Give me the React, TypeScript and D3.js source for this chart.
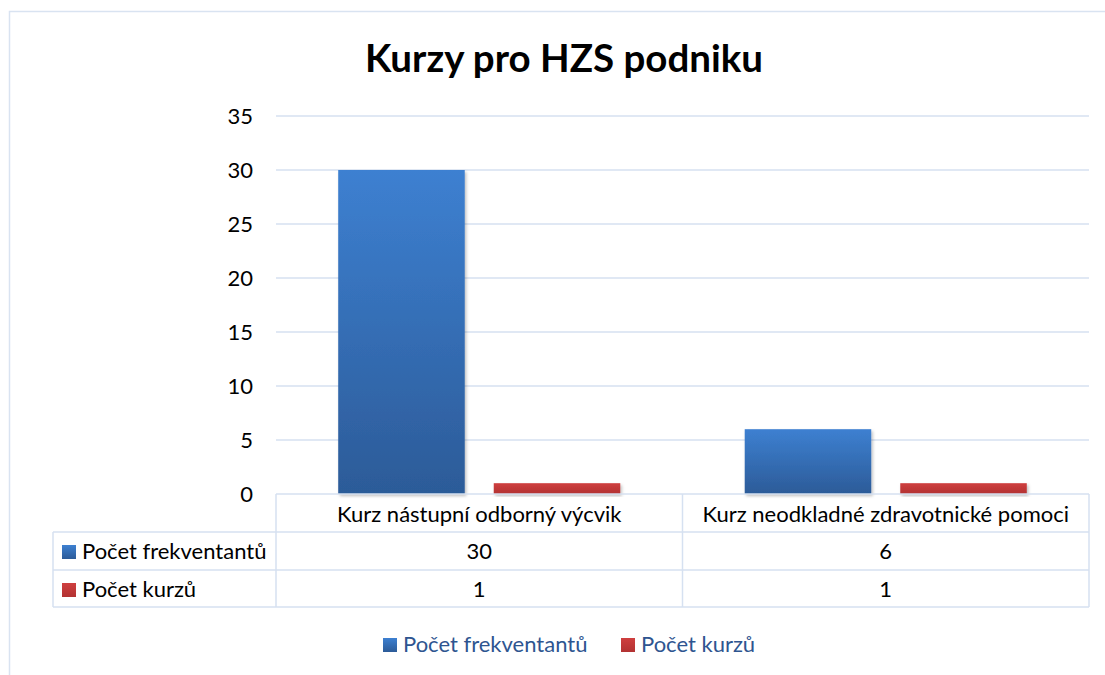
import React from "react";
import * as d3 from "d3";

const categories = ["Kurz nástupní odborný výcvik", "Kurz neodkladné zdravotnické pomoci"];
const seriesNames = ["Počet frekventantů", "Počet kurzů"];
const frekventanti = [30, 6];
const kurzy = [1, 1];
const yTicks = [0, 5, 10, 15, 20, 25, 30, 35];
const title = "Kurzy pro HZS podniku";

const W = 1105, H = 675;
const FONT = "Lato, 'Open Sans', sans-serif";
const GRID = "#d6e1f1";
const FS = 22;

export default function App() {
  const plotL = 276, plotR = 1089, plotT = 116, plotB = 494;
  const y = d3.scaleLinear().domain([0, 35]).range([plotB, plotT]);
  const x0 = d3.scaleBand<string>().domain(categories).range([plotL, plotR]);
  const x1 = d3.scaleBand<string>().domain(seriesNames).range([0, x0.bandwidth()]).paddingInner(0.1865).paddingOuter(0.4);
  const values = [frekventanti, kurzy];
  const fills = ["url(#gBlue)", "url(#gRed)"];
  const rowTops = [494, 532, 570, 607];
  const tableL = 53;

  return (
    <div style={{ position: "fixed", left: 0, top: 0 }}>
      <svg width={W} height={H} style={{ display: "block", background: "#fff" }}>
        <defs>
          <linearGradient id="gBlue" x1="0" y1="0" x2="0" y2="1">
            <stop offset="0" stopColor="#3d80d1" />
            <stop offset="1" stopColor="#2c5b98" />
          </linearGradient>
          <linearGradient id="gRed" x1="0" y1="0" x2="0" y2="1">
            <stop offset="0" stopColor="#cf3f3f" />
            <stop offset="1" stopColor="#b23232" />
          </linearGradient>
          <filter id="sh" x="-10%" y="-10%" width="130%" height="130%">
            <feDropShadow dx="1.5" dy="2" stdDeviation="1.5" floodColor="#000" floodOpacity="0.25" />
          </filter>
        </defs>
        {/* chart border */}
        <path d={`M9.5,${H} V11.5 H${W}`} fill="none" stroke="#d9e3f1" strokeWidth={1.5} />
        <text x={564} y={72} textAnchor="middle" fontFamily={FONT} fontWeight="bold" fontSize={38.5} fill="#000">{title}</text>

        {/* gridlines */}
        {yTicks.map((t) => (
          <g key={t}>
            {t > 0 && <line x1={plotL} x2={plotR} y1={y(t)} y2={y(t)} stroke={GRID} strokeWidth={1.5} />}
            <text x={253} y={y(t) + 8} textAnchor="end" fontFamily={FONT} fontSize={FS} fill="#000">{t}</text>
          </g>
        ))}

        {/* bars */}
        {categories.map((c, ci) => (
          <g key={c} transform={`translate(${x0(c)},0)`}>
            {seriesNames.map((s, si) => (
              <rect key={s} x={x1(s)} width={x1.bandwidth()} y={y(values[si][ci])} height={y(0) - y(values[si][ci])} fill={fills[si]} filter="url(#sh)" />
            ))}
          </g>
        ))}

        {/* table */}
        <g stroke={GRID} strokeWidth={1.5} fill="none">
          <line x1={plotL} x2={plotR} y1={rowTops[0]} y2={rowTops[0]} />
          <line x1={tableL} x2={plotR} y1={rowTops[1]} y2={rowTops[1]} />
          <line x1={tableL} x2={plotR} y1={rowTops[2]} y2={rowTops[2]} />
          <line x1={tableL} x2={plotR} y1={rowTops[3]} y2={rowTops[3]} />
          <line x1={tableL} x2={tableL} y1={rowTops[1]} y2={rowTops[3]} />
          <line x1={plotL} x2={plotL} y1={rowTops[0]} y2={rowTops[3]} />
          {categories.map((c) => (
            <line key={c} x1={(x0(c) as number) + x0.bandwidth()} x2={(x0(c) as number) + x0.bandwidth()} y1={rowTops[0]} y2={rowTops[3]} />
          ))}
        </g>
        {categories.map((c) => (
          <text key={c} x={(x0(c) as number) + x0.bandwidth() / 2} y={522} textAnchor="middle" fontFamily={FONT} fontSize={FS} fill="#000">{c}</text>
        ))}
        {seriesNames.map((s, si) => (
          <g key={s}>
            <rect x={62} y={rowTops[si + 1] + 13} width={14} height={14} fill={fills[si]} />
            <text x={82} y={rowTops[si + 1] + 27} fontFamily={FONT} fontSize={FS} fill="#000">{s}</text>
            {categories.map((c, ci) => (
              <text key={c} x={(x0(c) as number) + x0.bandwidth() / 2} y={rowTops[si + 1] + 27} textAnchor="middle" fontFamily={FONT} fontSize={FS} fill="#000">{values[si][ci]}</text>
            ))}
          </g>
        ))}

        {/* legend */}
        <rect x={383} y={638} width={14} height={14} fill="url(#gBlue)" />
        <text x={403} y={652} fontFamily={FONT} fontSize={FS} fill="#2e5590">{seriesNames[0]}</text>
        <rect x={621} y={638} width={14} height={14} fill="url(#gRed)" />
        <text x={641} y={652} fontFamily={FONT} fontSize={FS} fill="#2e5590">{seriesNames[1]}</text>
      </svg>
    </div>
  );
}
